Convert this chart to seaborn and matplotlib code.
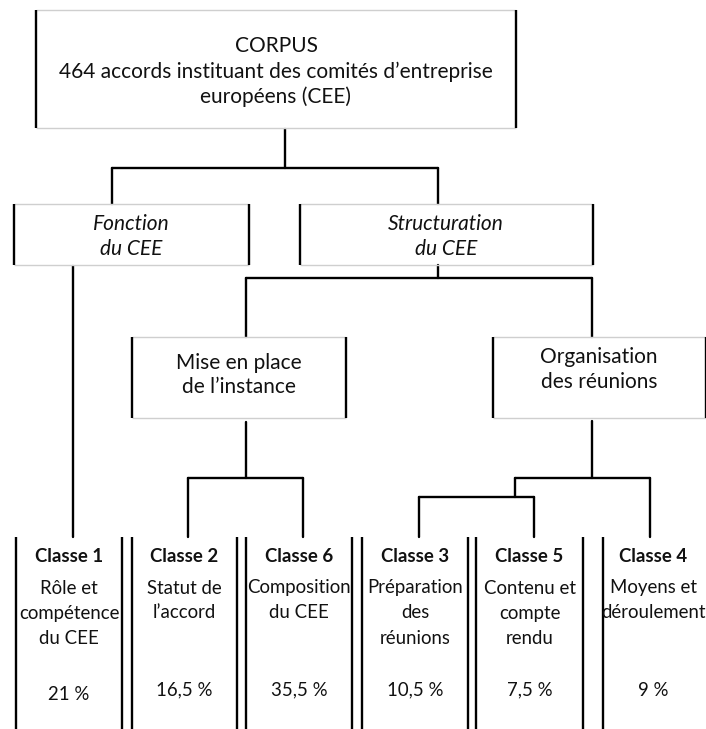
import matplotlib
matplotlib.use("Agg")
import matplotlib.pyplot as plt
import seaborn as sns
import pandas as pd

# ---------------- data ----------------
corpus_title = "CORPUS"
corpus_lines = ["464 accords instituant des comités d’entreprise", "européens (CEE)"]
level1_labels = [["Fonction", "du CEE"], ["Structuration", "du CEE"]]
level2_labels = [["Mise en place", "de l’instance"], ["Organisation", "des réunions"]]
classes = ["Classe 1", "Classe 2", "Classe 6", "Classe 3", "Classe 5", "Classe 4"]
descriptions = [
    ["Rôle et", "compétence", "du CEE"],
    ["Statut de", "l’accord"],
    ["Composition", "du CEE"],
    ["Préparation", "des", "réunions"],
    ["Contenu et", "compte", "rendu"],
    ["Moyens et", "déroulement"],
]
shares = [21, 16.5, 35.5, 10.5, 7.5, 9]

# ---------------- layout ----------------
W, H = 706, 729
FONT = ["Lato", "DejaVu Sans"]
FS_TOP = 15
FS_CLS = 13.4
LW = 1.7
GRAY = "#cfcfcf"
TXT = "#111111"

sns.set_theme(style="white")
plt.rcParams["font.family"] = FONT

fig = plt.figure(figsize=(W / 100, H / 100), dpi=100)
ax = fig.add_axes([0, 0, 1, 1])


def box(x0, x1, y0, y1, top=True, bottom=True):
    ax.vlines([x0, x1], y0, y1, colors="black", lw=LW, zorder=3)
    if top:
        ax.hlines(y0, x0, x1, colors=GRAY, lw=1.0, zorder=2)
    if bottom:
        ax.hlines(y1, x0, x1, colors=GRAY, lw=1.0, zorder=2)


def lines(x, ys, texts, fs=FS_TOP, **kw):
    for y, t in zip(ys, texts):
        ax.text(x, y, t, ha="center", va="center", fontsize=fs, color=TXT, **kw)


# connectors through seaborn
segs = [
    [(285, 129), (285, 168)],
    [(112, 168), (438, 168)],
    [(112, 168), (112, 204)],
    [(438, 168), (438, 204)],
    [(73, 266), (73, 537)],
    [(438, 265), (438, 278)],
    [(246, 278), (592, 278)],
    [(246, 278), (246, 337)],
    [(592, 278), (592, 337)],
    [(246, 422), (246, 478)],
    [(188, 478), (303, 478)],
    [(188, 478), (188, 537)],
    [(303, 478), (303, 537)],
    [(592, 421), (592, 478)],
    [(515, 478), (650, 478)],
    [(650, 478), (650, 537)],
    [(515, 478), (515, 497)],
    [(419, 497), (534, 497)],
    [(419, 497), (419, 537)],
    [(534, 497), (534, 537)],
]
rows = []
for i, s in enumerate(segs):
    for (x, y) in s:
        rows.append({"x": x, "y": y, "seg": i})
df = pd.DataFrame(rows)
sns.lineplot(data=df, x="x", y="y", units="seg", estimator=None, sort=False,
             color="black", lw=LW, ax=ax, legend=False)
ax.set_xlim(0, W)
ax.set_ylim(H, 0)
ax.axis("off")

# top box
box(36, 516, 10, 128)
lines(276, [46, 72, 97], [corpus_title] + corpus_lines)

# level 1
box(13.5, 248.5, 204, 265)
lines(131, [224, 249], level1_labels[0], style="italic")
box(300, 593, 204, 265)
lines(446, [224, 249], level1_labels[1], style="italic")

# level 2
box(131.5, 346, 337, 418)
lines(239, [363, 387], level2_labels[0])
box(493, 706, 337, 418)
lines(599, [357, 382], level2_labels[1])

# classes
class_x = [(16, 122), (131.5, 237), (246, 352), (362, 468), (476, 583), (603, 708)]
for (x0, x1), name, desc, pct in zip(class_x, classes, descriptions, shares):
    ax.vlines([x0, x1], 537, H + 2, colors="black", lw=LW, zorder=3)
    cx = (x0 + x1) / 2 if x1 < W else 653
    ax.text(cx, 557, name, ha="center", va="center", fontsize=FS_CLS,
            fontweight="bold", color=TXT)
    lines(cx, [588 + 25 * k for k in range(len(desc))], desc, fs=FS_CLS)
    ptxt = (f"{pct:g}".replace(".", ",")) + " %"
    lines(cx, [695 if pct == 21 else 690], [ptxt], fs=FS_CLS)

fig.savefig("out.png", dpi=100)
